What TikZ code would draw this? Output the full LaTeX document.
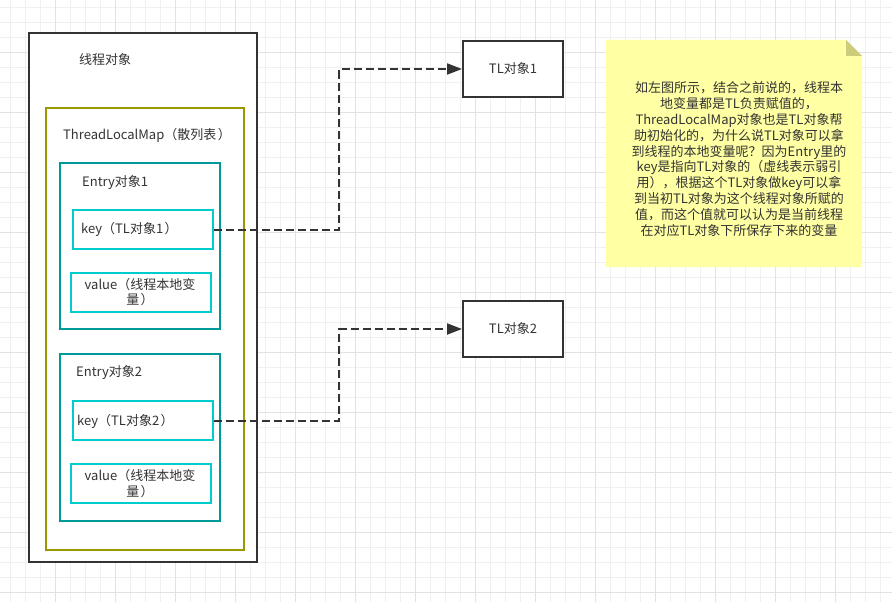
\documentclass[tikz,border=0pt]{standalone}
\usepackage{fontspec}
\setmainfont{Noto Sans CJK SC}
\usetikzlibrary{arrows.meta}
\definecolor{ink}{HTML}{333333}
\definecolor{olivebox}{HTML}{999900}
\definecolor{tealbox}{HTML}{009999}
\definecolor{cyanbox}{HTML}{00CCCC}
\definecolor{notefill}{HTML}{FFFFA3}
\definecolor{notefold}{HTML}{CCCC7A}
\definecolor{gridminor}{HTML}{F0F0F0}
\definecolor{gridmajor}{HTML}{E2E2E2}
\newcommand{\lp}{（}
\newcommand{\rp}{\hspace{1.5pt}）}
\tikzset{
  boxbase/.style={rectangle, inner sep=0pt, anchor=north west, fill=white, line width=2pt},
  threadbox/.style={boxbase, draw=ink},
  mapbox/.style={boxbase, draw=olivebox},
  entrybox/.style={boxbase, draw=tealbox},
  kvbox/.style={boxbase, draw=cyanbox},
  tlbox/.style={boxbase, draw=ink, text=ink, font=\fontsize{13}{15.8}\selectfont},
  lbl/.style={inner sep=0pt, text=ink, font=\fontsize{13}{15.8}\selectfont},
  notelbl/.style={inner sep=0pt, text=ink, font=\fontsize{13}{15.8}\selectfont},
  dasharrow/.style={draw=ink, line width=2pt, dash pattern=on 8pt off 4pt, -{Triangle[length=15pt,width=11pt]}},
}
\begin{document}
\begin{tikzpicture}[x=1pt,y=-1pt]
\useasboundingbox (0,0) rectangle (892,602);
\fill[white] (0,0) rectangle (892,602);
% grid
\foreach \x in {10,25,...,890} \draw[gridminor, line width=0.8pt] (\x,0) -- (\x,602);
\foreach \y in {7,22,...,600} \draw[gridminor, line width=0.8pt] (0,\y) -- (892,\y);
\foreach \x in {55,115,...,890} \draw[gridmajor, line width=0.8pt] (\x,0) -- (\x,602);
\foreach \y in {52,112,...,600} \draw[gridmajor, line width=0.8pt] (0,\y) -- (892,\y);

% thread object
\node[threadbox, minimum width=228pt, minimum height=529pt] (thread) at (28,32) {};
\node[lbl, anchor=west] (threadlbl) at (79,60) {线程对象};

% ThreadLocalMap
\node[mapbox, minimum width=198pt, minimum height=442pt] (map) at (45,107) {};
\node[lbl, anchor=west] (maplbl) at (63,135) {ThreadLocalMap\lp 散列表\rp};

% Entry 1
\node[entrybox, minimum width=160pt, minimum height=166pt] (entry1) at (59,162) {};
\node[lbl, anchor=west] (entry1lbl) at (82,183) {Entry对象1};
\node[kvbox, minimum width=140pt, minimum height=39pt] (key1) at (72,209) {};
\node[lbl, anchor=west] (key1lbl) at (81,229) {key\lp TL对象1\rp};
\node[kvbox, minimum width=140pt, minimum height=39pt] (val1) at (70,272) {};
\node[lbl, align=center] (val1lbl) at (140,292) {value\lp 线程本地变\\量\rp};

% Entry 2
\node[entrybox, minimum width=160pt, minimum height=167pt] (entry2) at (59,353) {};
\node[lbl, anchor=west] (entry2lbl) at (76,373) {Entry对象2};
\node[kvbox, minimum width=140pt, minimum height=39pt] (key2) at (72,400) {};
\node[lbl, anchor=west] (key2lbl) at (77,421) {key\lp TL对象2\rp};
\node[kvbox, minimum width=140pt, minimum height=39pt] (val2) at (70,463) {};
\node[lbl, align=center] (val2lbl) at (140,483.5) {value\lp 线程本地变\\量\rp};

% TL objects
\node[tlbox, minimum width=100pt, minimum height=56pt] (tl1) at (462,40) {TL对象1};
\node[tlbox, minimum width=100pt, minimum height=56pt] (tl2) at (462,300) {TL对象2};

% connectors
\draw[dasharrow] (key1.east) -- ++(125,0) |- (tl1.west);
\draw[dasharrow] (key2.east) -- ++(125,0) |- (tl2.west);

% note
\fill[notefill] (606,40) -- (846,40) -- (862,56) -- (862,267) -- (606,267) -- cycle;
\fill[notefold] (846,40) -- (846,56) -- (862,56) -- cycle;
\node[notelbl, align=center] (note) at (739,159) {如左图所示，结合之前说的，线程本\\地变量都是TL负责赋值的，\\ThreadLocalMap对象也是TL对象帮\\助初始化的，为什么说TL对象可以拿\\到线程的本地变量呢？因为Entry里的\\key是指向TL对象的（虚线表示弱引\\用），根据这个TL对象做key可以拿\\到当初TL对象为这个线程对象所赋的\\值，而这个值就可以认为是当前线程\\在对应TL对象下所保存下来的变量};
\end{tikzpicture}
\end{document}
